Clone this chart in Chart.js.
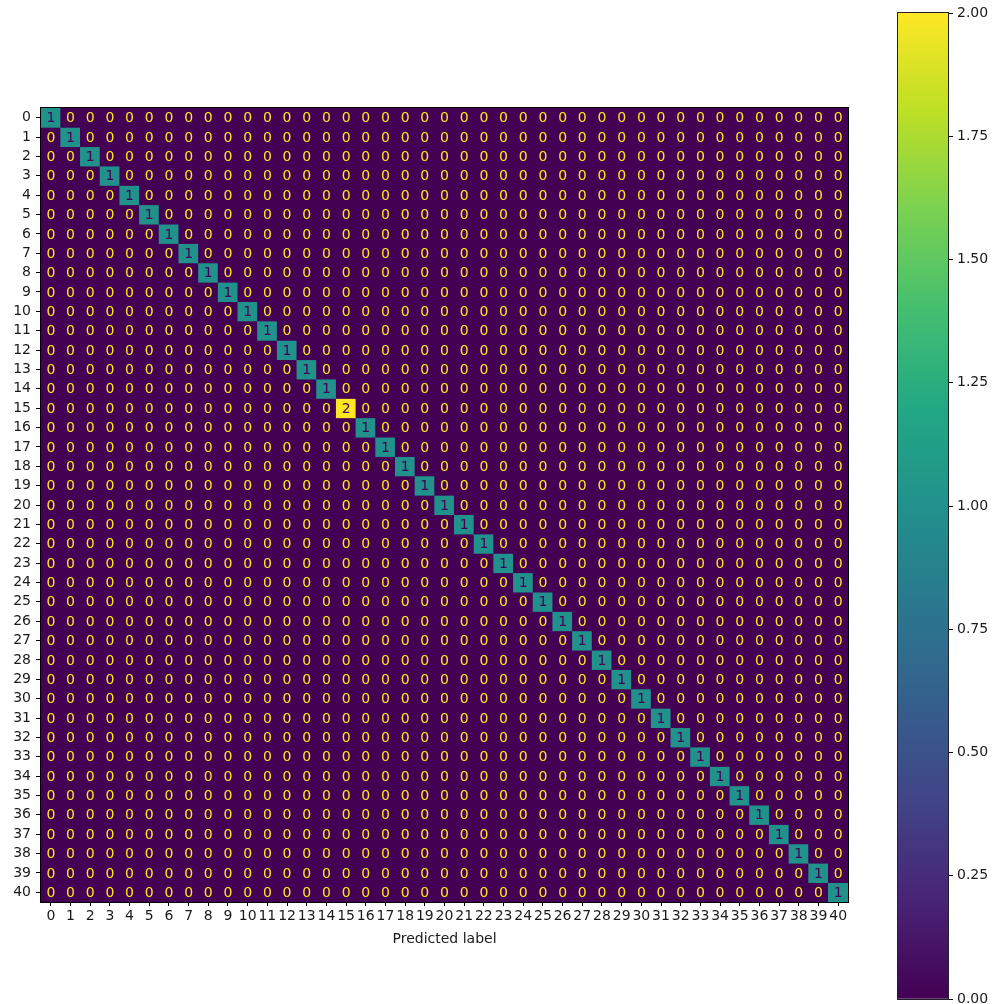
<!DOCTYPE html>
<html>
<head>
<meta charset="utf-8">
<script src="https://cdn.jsdelivr.net/npm/chart.js@4.4.1/dist/chart.umd.min.js"></script>
<style>
  html, body { margin: 0; padding: 0; background: #fff; }
  #wrap { position: relative; width: 995px; height: 1004px; overflow: hidden; }
  #matrixChart { position: absolute; left: 0; top: 0; }
  #colorbarChart { position: absolute; left: 880px; top: 0; }
</style>
</head>
<body>
<div id="wrap">
  <canvas id="matrixChart" width="880" height="960"></canvas>
  <canvas id="colorbarChart" width="115" height="1024"></canvas>
</div>
<script>
// Class labels (rows = true label, columns = predicted label)
const classLabels = ['0', '1', '2', '3', '4', '5', '6', '7', '8', '9',
    '10', '11', '12', '13', '14', '15', '16', '17', '18', '19',
    '20', '21', '22', '23', '24', '25', '26', '27', '28', '29',
    '30', '31', '32', '33', '34', '35', '36', '37', '38', '39', '40'];

// Confusion matrix counts
const confusionMatrix = [
    [1,0,0,0,0,0,0,0,0,0, 0,0,0,0,0,0,0,0,0,0, 0,0,0,0,0,0,0,0,0,0, 0,0,0,0,0,0,0,0,0,0, 0],
    [0,1,0,0,0,0,0,0,0,0, 0,0,0,0,0,0,0,0,0,0, 0,0,0,0,0,0,0,0,0,0, 0,0,0,0,0,0,0,0,0,0, 0],
    [0,0,1,0,0,0,0,0,0,0, 0,0,0,0,0,0,0,0,0,0, 0,0,0,0,0,0,0,0,0,0, 0,0,0,0,0,0,0,0,0,0, 0],
    [0,0,0,1,0,0,0,0,0,0, 0,0,0,0,0,0,0,0,0,0, 0,0,0,0,0,0,0,0,0,0, 0,0,0,0,0,0,0,0,0,0, 0],
    [0,0,0,0,1,0,0,0,0,0, 0,0,0,0,0,0,0,0,0,0, 0,0,0,0,0,0,0,0,0,0, 0,0,0,0,0,0,0,0,0,0, 0],
    [0,0,0,0,0,1,0,0,0,0, 0,0,0,0,0,0,0,0,0,0, 0,0,0,0,0,0,0,0,0,0, 0,0,0,0,0,0,0,0,0,0, 0],
    [0,0,0,0,0,0,1,0,0,0, 0,0,0,0,0,0,0,0,0,0, 0,0,0,0,0,0,0,0,0,0, 0,0,0,0,0,0,0,0,0,0, 0],
    [0,0,0,0,0,0,0,1,0,0, 0,0,0,0,0,0,0,0,0,0, 0,0,0,0,0,0,0,0,0,0, 0,0,0,0,0,0,0,0,0,0, 0],
    [0,0,0,0,0,0,0,0,1,0, 0,0,0,0,0,0,0,0,0,0, 0,0,0,0,0,0,0,0,0,0, 0,0,0,0,0,0,0,0,0,0, 0],
    [0,0,0,0,0,0,0,0,0,1, 0,0,0,0,0,0,0,0,0,0, 0,0,0,0,0,0,0,0,0,0, 0,0,0,0,0,0,0,0,0,0, 0],
    [0,0,0,0,0,0,0,0,0,0, 1,0,0,0,0,0,0,0,0,0, 0,0,0,0,0,0,0,0,0,0, 0,0,0,0,0,0,0,0,0,0, 0],
    [0,0,0,0,0,0,0,0,0,0, 0,1,0,0,0,0,0,0,0,0, 0,0,0,0,0,0,0,0,0,0, 0,0,0,0,0,0,0,0,0,0, 0],
    [0,0,0,0,0,0,0,0,0,0, 0,0,1,0,0,0,0,0,0,0, 0,0,0,0,0,0,0,0,0,0, 0,0,0,0,0,0,0,0,0,0, 0],
    [0,0,0,0,0,0,0,0,0,0, 0,0,0,1,0,0,0,0,0,0, 0,0,0,0,0,0,0,0,0,0, 0,0,0,0,0,0,0,0,0,0, 0],
    [0,0,0,0,0,0,0,0,0,0, 0,0,0,0,1,0,0,0,0,0, 0,0,0,0,0,0,0,0,0,0, 0,0,0,0,0,0,0,0,0,0, 0],
    [0,0,0,0,0,0,0,0,0,0, 0,0,0,0,0,2,0,0,0,0, 0,0,0,0,0,0,0,0,0,0, 0,0,0,0,0,0,0,0,0,0, 0],
    [0,0,0,0,0,0,0,0,0,0, 0,0,0,0,0,0,1,0,0,0, 0,0,0,0,0,0,0,0,0,0, 0,0,0,0,0,0,0,0,0,0, 0],
    [0,0,0,0,0,0,0,0,0,0, 0,0,0,0,0,0,0,1,0,0, 0,0,0,0,0,0,0,0,0,0, 0,0,0,0,0,0,0,0,0,0, 0],
    [0,0,0,0,0,0,0,0,0,0, 0,0,0,0,0,0,0,0,1,0, 0,0,0,0,0,0,0,0,0,0, 0,0,0,0,0,0,0,0,0,0, 0],
    [0,0,0,0,0,0,0,0,0,0, 0,0,0,0,0,0,0,0,0,1, 0,0,0,0,0,0,0,0,0,0, 0,0,0,0,0,0,0,0,0,0, 0],
    [0,0,0,0,0,0,0,0,0,0, 0,0,0,0,0,0,0,0,0,0, 1,0,0,0,0,0,0,0,0,0, 0,0,0,0,0,0,0,0,0,0, 0],
    [0,0,0,0,0,0,0,0,0,0, 0,0,0,0,0,0,0,0,0,0, 0,1,0,0,0,0,0,0,0,0, 0,0,0,0,0,0,0,0,0,0, 0],
    [0,0,0,0,0,0,0,0,0,0, 0,0,0,0,0,0,0,0,0,0, 0,0,1,0,0,0,0,0,0,0, 0,0,0,0,0,0,0,0,0,0, 0],
    [0,0,0,0,0,0,0,0,0,0, 0,0,0,0,0,0,0,0,0,0, 0,0,0,1,0,0,0,0,0,0, 0,0,0,0,0,0,0,0,0,0, 0],
    [0,0,0,0,0,0,0,0,0,0, 0,0,0,0,0,0,0,0,0,0, 0,0,0,0,1,0,0,0,0,0, 0,0,0,0,0,0,0,0,0,0, 0],
    [0,0,0,0,0,0,0,0,0,0, 0,0,0,0,0,0,0,0,0,0, 0,0,0,0,0,1,0,0,0,0, 0,0,0,0,0,0,0,0,0,0, 0],
    [0,0,0,0,0,0,0,0,0,0, 0,0,0,0,0,0,0,0,0,0, 0,0,0,0,0,0,1,0,0,0, 0,0,0,0,0,0,0,0,0,0, 0],
    [0,0,0,0,0,0,0,0,0,0, 0,0,0,0,0,0,0,0,0,0, 0,0,0,0,0,0,0,1,0,0, 0,0,0,0,0,0,0,0,0,0, 0],
    [0,0,0,0,0,0,0,0,0,0, 0,0,0,0,0,0,0,0,0,0, 0,0,0,0,0,0,0,0,1,0, 0,0,0,0,0,0,0,0,0,0, 0],
    [0,0,0,0,0,0,0,0,0,0, 0,0,0,0,0,0,0,0,0,0, 0,0,0,0,0,0,0,0,0,1, 0,0,0,0,0,0,0,0,0,0, 0],
    [0,0,0,0,0,0,0,0,0,0, 0,0,0,0,0,0,0,0,0,0, 0,0,0,0,0,0,0,0,0,0, 1,0,0,0,0,0,0,0,0,0, 0],
    [0,0,0,0,0,0,0,0,0,0, 0,0,0,0,0,0,0,0,0,0, 0,0,0,0,0,0,0,0,0,0, 0,1,0,0,0,0,0,0,0,0, 0],
    [0,0,0,0,0,0,0,0,0,0, 0,0,0,0,0,0,0,0,0,0, 0,0,0,0,0,0,0,0,0,0, 0,0,1,0,0,0,0,0,0,0, 0],
    [0,0,0,0,0,0,0,0,0,0, 0,0,0,0,0,0,0,0,0,0, 0,0,0,0,0,0,0,0,0,0, 0,0,0,1,0,0,0,0,0,0, 0],
    [0,0,0,0,0,0,0,0,0,0, 0,0,0,0,0,0,0,0,0,0, 0,0,0,0,0,0,0,0,0,0, 0,0,0,0,1,0,0,0,0,0, 0],
    [0,0,0,0,0,0,0,0,0,0, 0,0,0,0,0,0,0,0,0,0, 0,0,0,0,0,0,0,0,0,0, 0,0,0,0,0,1,0,0,0,0, 0],
    [0,0,0,0,0,0,0,0,0,0, 0,0,0,0,0,0,0,0,0,0, 0,0,0,0,0,0,0,0,0,0, 0,0,0,0,0,0,1,0,0,0, 0],
    [0,0,0,0,0,0,0,0,0,0, 0,0,0,0,0,0,0,0,0,0, 0,0,0,0,0,0,0,0,0,0, 0,0,0,0,0,0,0,1,0,0, 0],
    [0,0,0,0,0,0,0,0,0,0, 0,0,0,0,0,0,0,0,0,0, 0,0,0,0,0,0,0,0,0,0, 0,0,0,0,0,0,0,0,1,0, 0],
    [0,0,0,0,0,0,0,0,0,0, 0,0,0,0,0,0,0,0,0,0, 0,0,0,0,0,0,0,0,0,0, 0,0,0,0,0,0,0,0,0,1, 0],
    [0,0,0,0,0,0,0,0,0,0, 0,0,0,0,0,0,0,0,0,0, 0,0,0,0,0,0,0,0,0,0, 0,0,0,0,0,0,0,0,0,0, 1]
];

// Colorbar range and ticks
const valueMin = 0;
const valueMax = 2;
const colorbarTicks = [0, 0.25, 0.5, 0.75, 1, 1.25, 1.5, 1.75, 2];

// Viridis colormap stops
const VIRIDIS = ['#440154', '#482475', '#414487', '#355f8d', '#2a788e', '#21918c',
    '#22a884', '#44bf70', '#7ad151', '#bddf26', '#fde725'];
const TEXT_COLOR = '#1a1a1a';
const FONT_FAMILY = "'DejaVu Sans', sans-serif";
const FONT_SIZE = 14;

function hexToRgb(hex) {
    const n = parseInt(hex.slice(1), 16);
    return [(n >> 16) & 255, (n >> 8) & 255, n & 255];
}

function viridis(t) {
    t = Math.max(0, Math.min(1, t));
    const pos = t * (VIRIDIS.length - 1);
    const i = Math.min(Math.floor(pos), VIRIDIS.length - 2);
    const f = pos - i;
    const a = hexToRgb(VIRIDIS[i]);
    const b = hexToRgb(VIRIDIS[i + 1]);
    const c = a.map((v, k) => Math.round(v + (b[k] - v) * f));
    return `rgb(${c[0]}, ${c[1]}, ${c[2]})`;
}

const threshold = (valueMin + valueMax) / 2;

// One dataset per true-label row; each cell is a floating bar spanning its row
const matrixDatasets = confusionMatrix.map((row, r) => ({
    label: classLabels[r],
    data: row.map(() => [r - 0.5, r + 0.5]),
    backgroundColor: row.map(v => viridis((v - valueMin) / (valueMax - valueMin))),
    borderWidth: 0,
    barPercentage: 1,
    categoryPercentage: 1,
    grouped: false
}));

// Background, cell numbers and frame
const matrixDecor = {
    id: 'matrixDecor',
    beforeDatasetsDraw(chart) {
        const { ctx, chartArea: a } = chart;
        ctx.save();
        ctx.fillStyle = VIRIDIS[0];
        ctx.fillRect(a.left, a.top, a.right - a.left, a.bottom - a.top);
        ctx.restore();
    },
    afterDatasetsDraw(chart) {
        const { ctx, scales: { x, y } } = chart;
        ctx.save();
        ctx.font = `${FONT_SIZE}px ${FONT_FAMILY}`;
        ctx.textAlign = 'center';
        ctx.textBaseline = 'middle';
        confusionMatrix.forEach((row, r) => {
            row.forEach((v, c) => {
                ctx.fillStyle = v < threshold ? VIRIDIS[VIRIDIS.length - 1] : VIRIDIS[0];
                ctx.fillText(String(v), x.getPixelForValue(c), y.getPixelForValue(r) + 1);
            });
        });
        ctx.restore();
    },
    afterDraw(chart) {
        const { ctx, chartArea: a } = chart;
        ctx.save();
        ctx.strokeStyle = '#000';
        ctx.lineWidth = 1;
        ctx.strokeRect(a.left - 0.5, a.top - 0.5, a.right - a.left + 1, a.bottom - a.top + 1);
        ctx.restore();
    }
};

new Chart(document.getElementById('matrixChart'), {
    type: 'bar',
    data: {
        labels: classLabels,
        datasets: matrixDatasets
    },
    options: {
        responsive: false,
        animation: false,
        layout: {
            padding: { top: 108, right: 32, left: 0, bottom: 0 }
        },
        plugins: {
            legend: { display: false },
            tooltip: { enabled: false }
        },
        scales: {
            x: {
                type: 'category',
                offset: true,
                grid: { drawOnChartArea: false, drawTicks: true, tickLength: 4, color: '#000', offset: false },
                border: { display: false },
                ticks: {
                    color: TEXT_COLOR,
                    font: { family: FONT_FAMILY, size: FONT_SIZE },
                    maxRotation: 0,
                    minRotation: 0,
                    autoSkip: false,
                    padding: 2
                },
                title: {
                    display: true,
                    text: 'Predicted label',
                    color: TEXT_COLOR,
                    font: { family: FONT_FAMILY, size: FONT_SIZE },
                    padding: { top: 4, bottom: 12 }
                },
                afterFit(scale) { scale.height = 58; }
            },
            y: {
                type: 'linear',
                reverse: true,
                min: -0.5,
                max: 40.5,
                afterBuildTicks(scale) {
                    scale.ticks = classLabels.map((_, i) => ({ value: i }));
                },
                grid: { drawOnChartArea: false, drawTicks: true, tickLength: 5, color: '#000' },
                border: { display: false },
                ticks: {
                    color: TEXT_COLOR,
                    font: { family: FONT_FAMILY, size: FONT_SIZE },
                    autoSkip: false,
                    padding: 5,
                    callback: v => classLabels[v]
                },
                afterFit(scale) { scale.width = 41; }
            }
        }
    },
    plugins: [matrixDecor]
});

// Colorbar (canvas is taller than the page so the bottom label can overhang)
const colorbarFrame = {
    id: 'colorbarFrame',
    afterDraw(chart) {
        const { ctx, chartArea: a } = chart;
        ctx.save();
        ctx.strokeStyle = '#222';
        ctx.lineWidth = 1;
        ctx.strokeRect(a.left - 0.5, a.top - 0.5, a.right - a.left + 1, a.bottom - a.top + 1);
        ctx.restore();
    }
};

new Chart(document.getElementById('colorbarChart'), {
    type: 'bar',
    data: {
        labels: ['scale'],
        datasets: [{
            data: [[valueMin, valueMax]],
            backgroundColor(context) {
                const { chart } = context;
                const a = chart.chartArea;
                if (!a) return VIRIDIS[0];
                const g = chart.ctx.createLinearGradient(0, a.bottom, 0, a.top);
                VIRIDIS.forEach((c, i) => g.addColorStop(i / (VIRIDIS.length - 1), c));
                return g;
            },
            borderWidth: 0,
            barPercentage: 1,
            categoryPercentage: 1
        }]
    },
    options: {
        responsive: false,
        animation: false,
        layout: {
            padding: { left: 18, top: 13, bottom: 25, right: 0 }
        },
        plugins: {
            legend: { display: false },
            tooltip: { enabled: false }
        },
        scales: {
            x: { display: false },
            y: {
                position: 'right',
                min: valueMin,
                max: valueMax,
                afterBuildTicks(scale) {
                    scale.ticks = colorbarTicks.map(v => ({ value: v }));
                },
                grid: { drawOnChartArea: false, drawTicks: true, tickLength: 5, color: '#000' },
                border: { display: false },
                ticks: {
                    color: TEXT_COLOR,
                    font: { family: FONT_FAMILY, size: FONT_SIZE },
                    padding: 4,
                    callback: v => v.toFixed(2)
                },
                afterFit(scale) { scale.width = 47; }
            }
        }
    },
    plugins: [colorbarFrame]
});
</script>
</body>
</html>
